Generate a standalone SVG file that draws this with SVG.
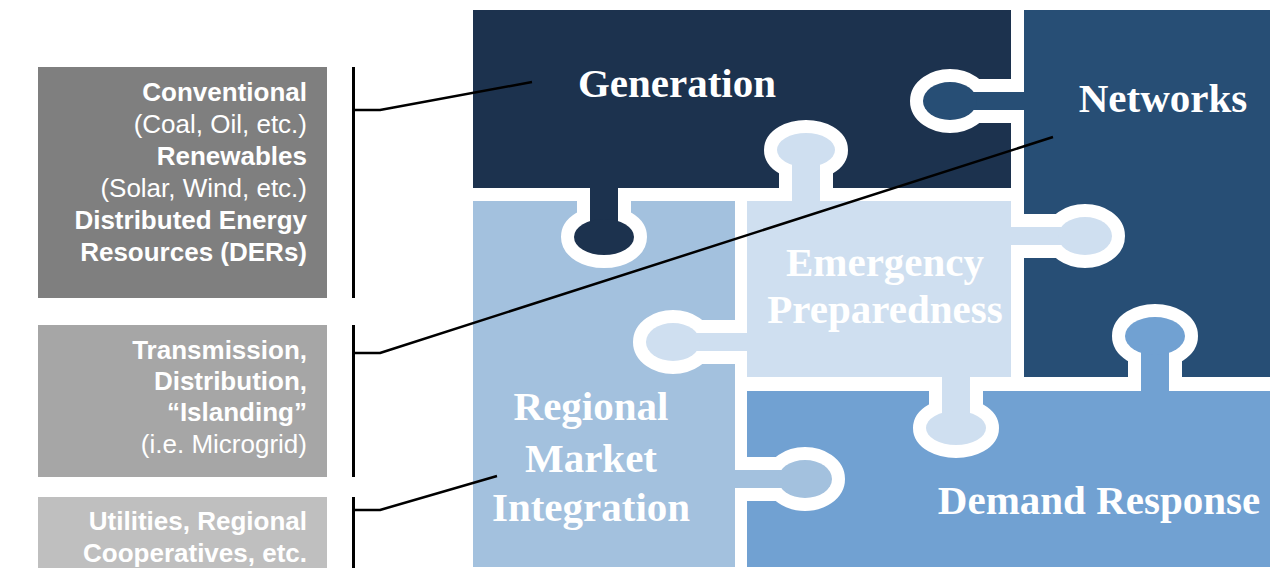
<svg xmlns="http://www.w3.org/2000/svg" width="1270" height="568" viewBox="0 0 1270 568">
  <style>
    .box text { font-family: "Liberation Sans", Arial, sans-serif; font-size: 26px; fill: #ffffff; text-anchor: end; }
    .box .b { font-weight: 700; }
    .lbl { font-family: "Liberation Serif", "Times New Roman", serif; font-size: 41px; font-weight: 700; fill: #ffffff; text-anchor: middle; }
    .ring { stroke: #ffffff; stroke-width: 26; stroke-linejoin: round; }
    .bracket { fill: none; stroke: #000000; stroke-width: 3; }
    .conn { fill: none; stroke: #000000; stroke-width: 2.5; stroke-linejoin: round; }
    .gen { fill: #1c324e; }
    .net { fill: #274e75; }
    .reg { fill: #a3c1de; }
    .emg { fill: #cfdff0; }
    .dem { fill: #71a1d2; }
  </style>
  <defs>
    <!-- each tab's white rim is only painted outside the piece it grows from -->
    <clipPath id="below188"><rect x="0" y="188" width="1270" height="380"/></clipPath>
    <clipPath id="above201"><rect x="0" y="0" width="1270" height="201"/></clipPath>
    <clipPath id="left1024"><rect x="0" y="0" width="1024" height="568"/></clipPath>
    <clipPath id="right1011"><rect x="1011" y="0" width="259" height="568"/></clipPath>
    <clipPath id="left747"><rect x="0" y="0" width="747" height="568"/></clipPath>
    <clipPath id="right735"><rect x="735" y="0" width="535" height="568"/></clipPath>
    <clipPath id="below377"><rect x="0" y="377" width="1270" height="191"/></clipPath>
    <clipPath id="above391"><rect x="0" y="0" width="1270" height="391"/></clipPath>
  </defs>

  <rect width="1270" height="568" fill="#ffffff"/>

  <!-- left-hand category boxes -->
  <g id="box-generation" class="box">
    <rect x="38" y="67" width="289" height="231" fill="#7f7f7f"/>
    <text x="307" y="101" class="b">Conventional</text>
    <text x="307" y="133">(Coal, Oil, etc.)</text>
    <text x="307" y="165" class="b">Renewables</text>
    <text x="307" y="197">(Solar, Wind, etc.)</text>
    <text x="307" y="229" class="b">Distributed Energy</text>
    <text x="307" y="261" class="b">Resources (DERs)</text>
  </g>
  <g id="box-networks" class="box">
    <rect x="38" y="325" width="289" height="152" fill="#a6a6a6"/>
    <text x="307" y="359" class="b">Transmission,</text>
    <text x="307" y="390" class="b">Distribution,</text>
    <text x="307" y="421" class="b">“Islanding”</text>
    <text x="307" y="453">(i.e. Microgrid)</text>
  </g>
  <g id="box-market" class="box">
    <rect x="38" y="497" width="289" height="71" fill="#bfbfbf"/>
    <text x="307" y="530" class="b">Utilities, Regional</text>
    <text x="307" y="562" class="b">Cooperatives, etc.</text>
  </g>

  <!-- puzzle tiles -->
  <g id="generation">
    <rect class="gen" x="473" y="10" width="538" height="178"/>
    <text class="lbl" x="677" y="97">Generation</text>
  </g>
  <g id="networks">
    <rect class="net" x="1024" y="10" width="246" height="367"/>
    <text class="lbl" x="1163" y="112">Networks</text>
  </g>
  <g id="regional-market">
    <rect class="reg" x="473" y="201" width="262" height="366"/>
    <text class="lbl" x="591" y="420">Regional</text>
    <text class="lbl" x="591" y="472">Market</text>
    <text class="lbl" x="591" y="521">Integration</text>
  </g>
  <g id="emergency">
    <rect class="emg" x="747" y="201" width="264" height="176"/>
    <text class="lbl" x="885" y="276">Emergency</text>
    <text class="lbl" x="885" y="323">Preparedness</text>
  </g>
  <g id="demand-response">
    <rect class="dem" x="747" y="391" width="523" height="176"/>
    <text class="lbl" x="1099" y="514">Demand Response</text>
  </g>

  <!-- interlocking tabs: white rim first, then the tab body -->
  <g id="tabs">
    <g id="tab-generation" class="gen">
      <g clip-path="url(#below188)"><rect class="ring" x="590" y="186" width="28" height="40"/><ellipse class="ring" cx="604" cy="237" rx="30" ry="18"/></g>
      <rect x="590" y="186" width="28" height="40"/><ellipse cx="604" cy="237" rx="30" ry="18"/>
    </g>
    <g id="tab-networks" class="net">
      <g clip-path="url(#left1024)"><rect class="ring" x="960" y="92" width="66" height="18"/><ellipse class="ring" cx="950" cy="101" rx="27" ry="19"/></g>
      <rect x="960" y="92" width="66" height="18"/><ellipse cx="950" cy="101" rx="27" ry="19"/>
    </g>
    <g id="tab-regional-market" class="reg">
      <g clip-path="url(#right735)"><rect class="ring" x="733" y="470" width="62" height="18"/><ellipse class="ring" cx="805" cy="479" rx="27" ry="19"/></g>
      <rect x="733" y="470" width="62" height="18"/><ellipse cx="805" cy="479" rx="27" ry="19"/>
    </g>
    <g id="tab-demand-response" class="dem">
      <g clip-path="url(#above391)"><rect class="ring" x="1141" y="345" width="28" height="48"/><ellipse class="ring" cx="1155" cy="336" rx="30" ry="19"/></g>
      <rect x="1141" y="345" width="28" height="48"/><ellipse cx="1155" cy="336" rx="30" ry="19"/>
    </g>
    <g id="tab-emergency" class="emg">
      <g clip-path="url(#above201)"><rect class="ring" x="792" y="160" width="28" height="43"/><ellipse class="ring" cx="806" cy="150" rx="29" ry="17"/></g>
      <rect x="792" y="160" width="28" height="43"/><ellipse cx="806" cy="150" rx="29" ry="17"/>
      <g clip-path="url(#right1011)"><rect class="ring" x="1009" y="227" width="66" height="18"/><ellipse class="ring" cx="1085" cy="236" rx="27" ry="19"/></g>
      <rect x="1009" y="227" width="66" height="18"/><ellipse cx="1085" cy="236" rx="27" ry="19"/>
      <g clip-path="url(#left747)"><rect class="ring" x="683" y="333" width="66" height="18"/><ellipse class="ring" cx="673" cy="342" rx="27" ry="19"/></g>
      <rect x="683" y="333" width="66" height="18"/><ellipse cx="673" cy="342" rx="27" ry="19"/>
      <g clip-path="url(#below377)"><rect class="ring" x="942" y="375" width="28" height="45"/><ellipse class="ring" cx="956" cy="428" rx="30" ry="17"/></g>
      <rect x="942" y="375" width="28" height="45"/><ellipse cx="956" cy="428" rx="30" ry="17"/>
    </g>
  </g>

  <!-- brackets and leader lines -->
  <g id="connectors">
    <line class="bracket" x1="353.5" y1="67" x2="353.5" y2="298"/>
    <line class="bracket" x1="353.5" y1="325" x2="353.5" y2="477"/>
    <line class="bracket" x1="353.5" y1="497" x2="353.5" y2="568"/>
    <polyline class="conn" points="353,110 380,110 532,82"/>
    <polyline class="conn" points="353,353 380,353 1053,137"/>
    <polyline class="conn" points="353,510 380,510 497,476"/>
  </g>
</svg>
